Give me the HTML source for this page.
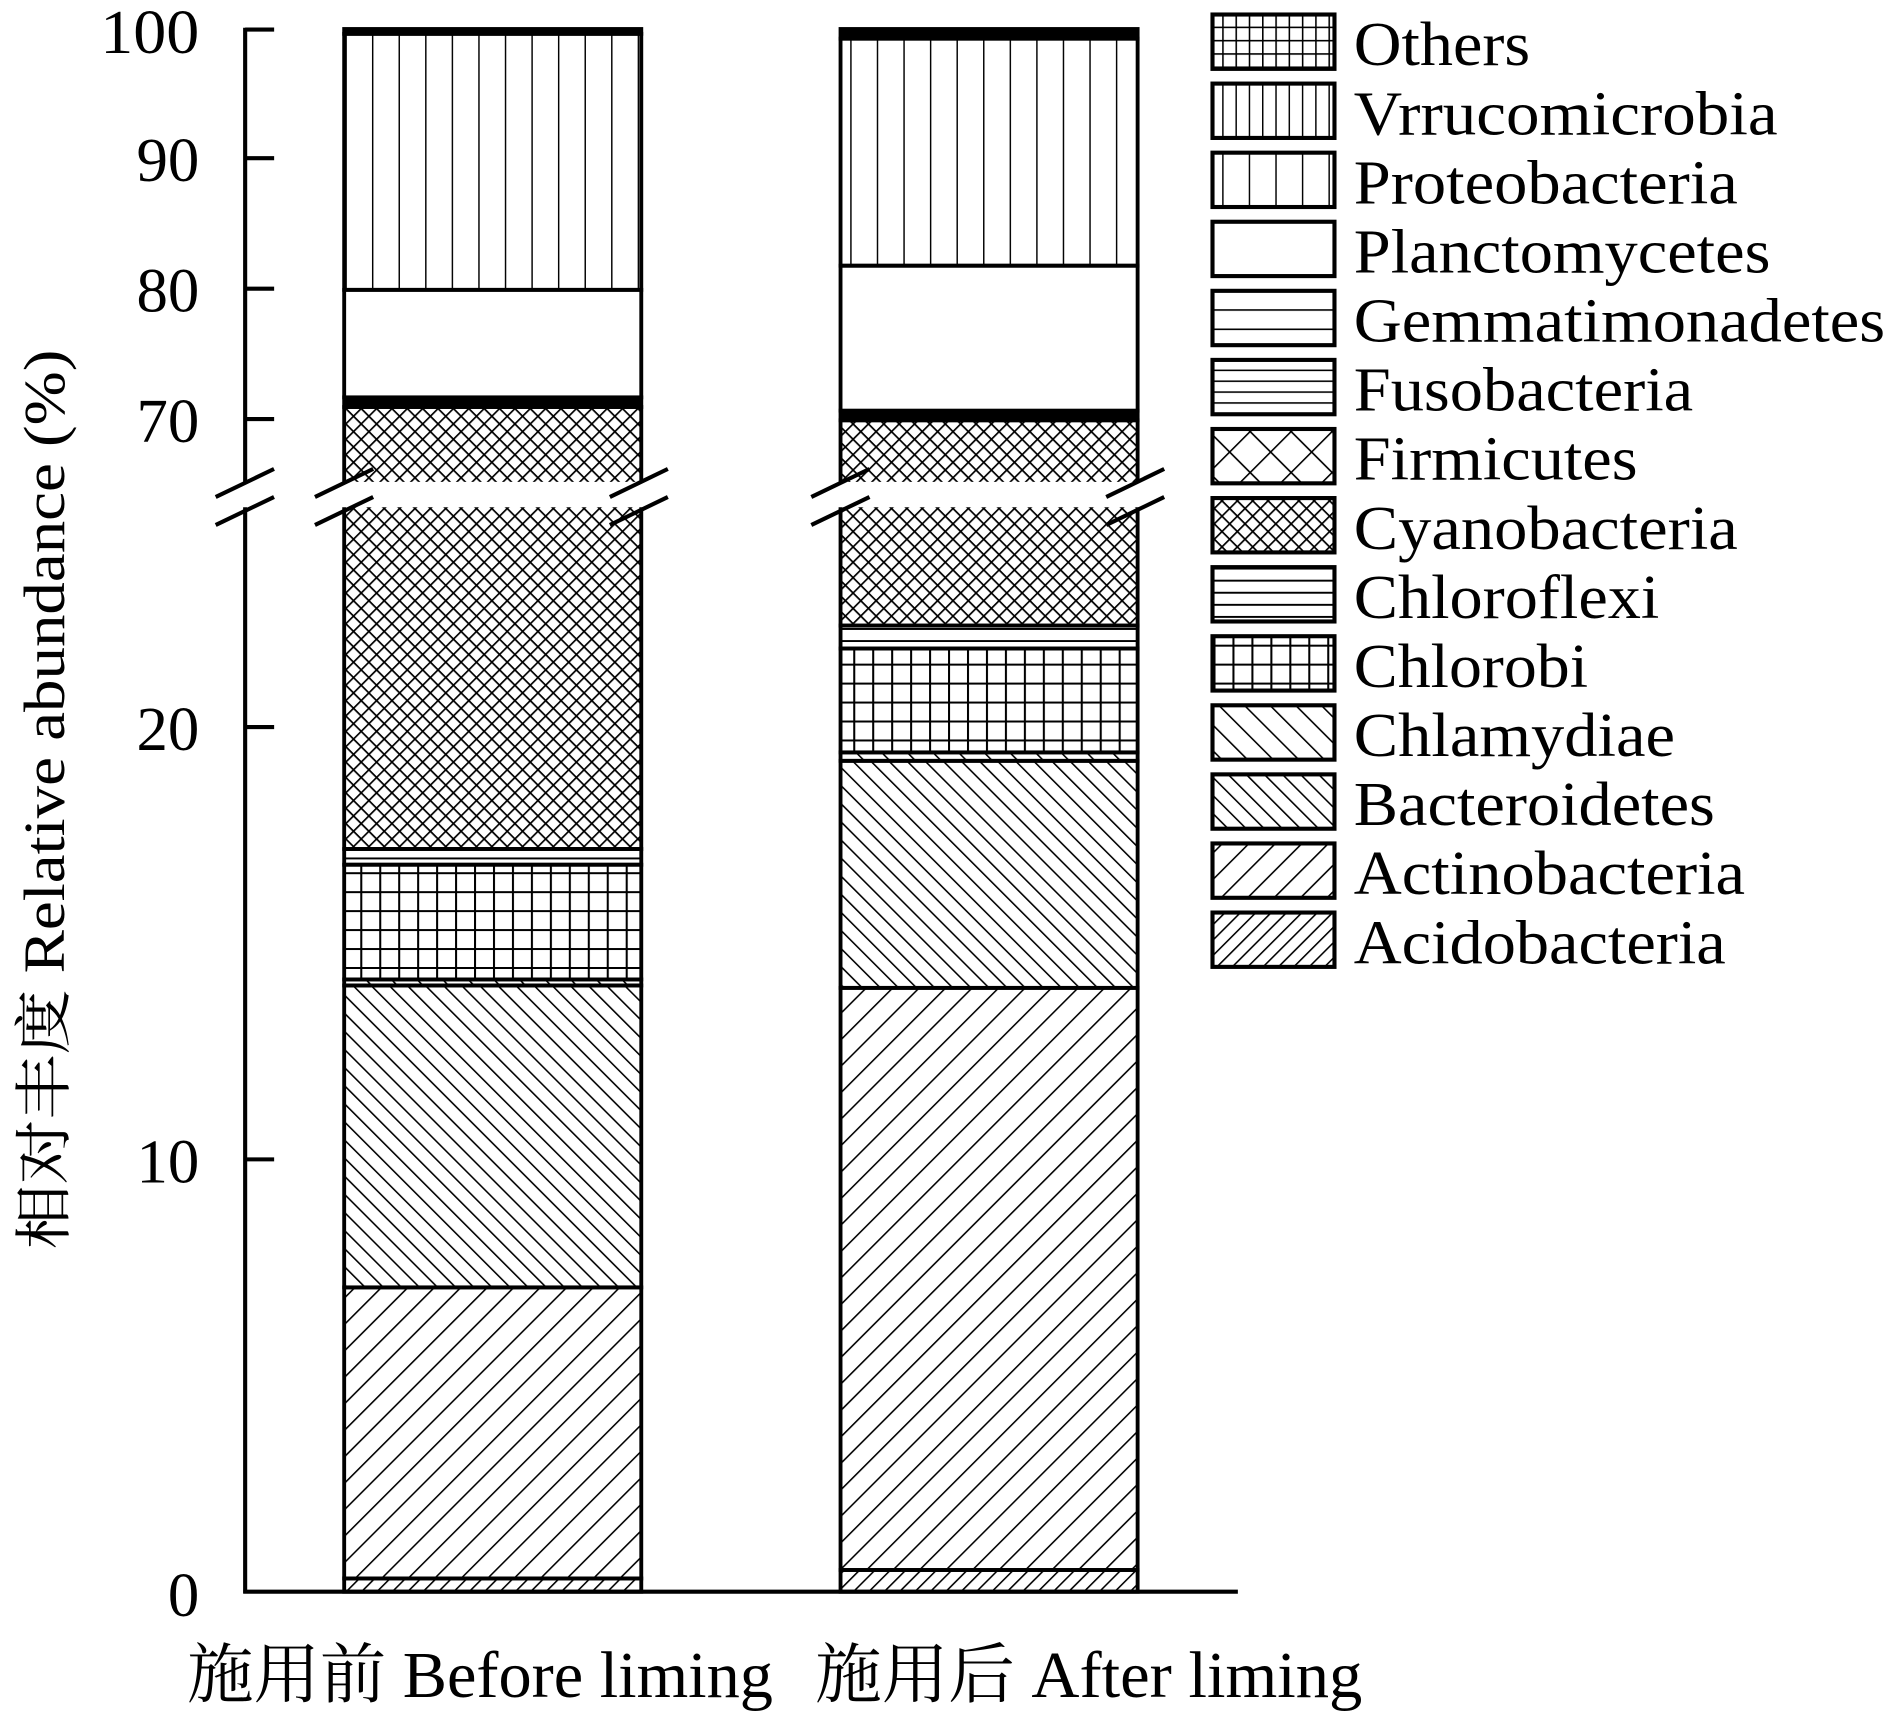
<!DOCTYPE html>
<html><head><meta charset="utf-8"><style>
html,body{margin:0;padding:0;background:#fff;}
svg{display:block;}
text{font-family:"Liberation Serif","Noto Serif CJK SC",serif;fill:#000;}
</style></head><body>
<svg width="1890" height="1713" viewBox="0 0 1565 1418.4" xmlns="http://www.w3.org/2000/svg">
<defs>
<pattern id="acido" width="9" height="9" patternUnits="userSpaceOnUse" patternTransform="rotate(45)"><line x1="0" y1="0" x2="0" y2="9" stroke="#000" stroke-width="2.6"/></pattern>
<pattern id="actino" width="15.5" height="15.5" patternUnits="userSpaceOnUse" patternTransform="rotate(45)"><line x1="0" y1="0" x2="0" y2="15.5" stroke="#000" stroke-width="2.6"/></pattern>
<pattern id="bact" width="10.6" height="10.6" patternUnits="userSpaceOnUse" patternTransform="rotate(-45)"><line x1="0" y1="0" x2="0" y2="10.6" stroke="#000" stroke-width="2.6"/></pattern>
<pattern id="chlam" width="15" height="15" patternUnits="userSpaceOnUse" patternTransform="rotate(-45)"><line x1="0" y1="0" x2="0" y2="15" stroke="#000" stroke-width="2.6"/></pattern>
<pattern id="chlorobi" width="15.7" height="15.7" patternUnits="userSpaceOnUse"><path d="M0 0H15.7M0 0V15.7" stroke="#000" stroke-width="3.4"/></pattern>
<pattern id="chlorofl" width="10" height="10" patternUnits="userSpaceOnUse"><line x1="0" y1="0" x2="10" y2="0" stroke="#000" stroke-width="3.2"/></pattern>
<pattern id="cyano" width="9" height="9" patternUnits="userSpaceOnUse" patternTransform="rotate(45)"><path d="M0 0H9M0 0V9" stroke="#000" stroke-width="2.8"/></pattern>
<pattern id="firm" width="24" height="24" patternUnits="userSpaceOnUse" patternTransform="rotate(45)"><path d="M0 0H24M0 0V24" stroke="#000" stroke-width="2.6"/></pattern>
<pattern id="fuso" width="9" height="9" patternUnits="userSpaceOnUse"><line x1="0" y1="0" x2="9" y2="0" stroke="#000" stroke-width="2.6"/></pattern>
<pattern id="gemma" width="16" height="16" patternUnits="userSpaceOnUse"><line x1="0" y1="0" x2="16" y2="0" stroke="#000" stroke-width="2.6"/></pattern>
<pattern id="proteo" width="22" height="22" patternUnits="userSpaceOnUse"><line x1="0" y1="0" x2="0" y2="22" stroke="#000" stroke-width="2.4"/></pattern>
<pattern id="vrru" width="11" height="11" patternUnits="userSpaceOnUse"><line x1="0" y1="0" x2="0" y2="11" stroke="#000" stroke-width="2.4"/></pattern>
<pattern id="others" width="11" height="11" patternUnits="userSpaceOnUse"><path d="M0 0H11M0 0V11" stroke="#000" stroke-width="2.6"/></pattern>
</defs>

<g stroke="#000" stroke-width="3.2">
<rect x="285" y="1307" width="246" height="11" fill="url(#acido)"/>
<rect x="285" y="1066" width="246" height="241" fill="url(#actino)"/>
<rect x="285" y="816" width="246" height="250" fill="url(#bact)"/>
<rect x="285" y="811" width="246" height="5" fill="url(#chlam)"/>
<rect x="285" y="716" width="246" height="95" fill="url(#chlorobi)"/>
<rect x="285" y="703" width="246" height="13" fill="url(#chlorofl)"/>
<rect x="285" y="337" width="246" height="366" fill="url(#cyano)"/>
<rect x="285" y="329" width="246" height="8" fill="#000"/>
<rect x="285" y="240" width="246" height="89" fill="#fff"/>
<rect x="285" y="28" width="246" height="212" fill="url(#proteo)"/>
<rect x="285" y="24" width="246" height="4" fill="#000"/>
<rect x="696" y="1300" width="246" height="18" fill="url(#acido)"/>
<rect x="696" y="818" width="246" height="482" fill="url(#actino)"/>
<rect x="696" y="630" width="246" height="188" fill="url(#bact)"/>
<rect x="696" y="623" width="246" height="7" fill="url(#chlam)"/>
<rect x="696" y="537" width="246" height="86" fill="url(#chlorobi)"/>
<rect x="696" y="518" width="246" height="19" fill="url(#chlorofl)"/>
<rect x="696" y="348" width="246" height="170" fill="url(#cyano)"/>
<rect x="696" y="340" width="246" height="8" fill="#000"/>
<rect x="696" y="220" width="246" height="120" fill="#fff"/>
<rect x="696" y="32" width="246" height="188" fill="url(#proteo)"/>
<rect x="696" y="24" width="246" height="8" fill="#000"/>
</g>
<rect x="255" y="399" width="305" height="21" fill="#fff"/>
<rect x="666" y="399" width="305" height="21" fill="#fff"/>
<rect x="195" y="400" width="20" height="20" fill="#fff"/>
<g stroke="#000" stroke-width="3.4">
<line x1="178.6" y1="411.5" x2="226.9" y2="388.3"/><line x1="178.6" y1="434.7" x2="226.9" y2="411.5"/>
<line x1="260.8" y1="411.5" x2="309" y2="388.3"/><line x1="260.8" y1="434.7" x2="309" y2="411.5"/>
<line x1="505" y1="411.5" x2="553" y2="388.3"/><line x1="505" y1="434.7" x2="553" y2="411.5"/>
<line x1="671.8" y1="411.5" x2="720" y2="388.3"/><line x1="671.8" y1="434.7" x2="720" y2="411.5"/>
<line x1="916" y1="411.5" x2="964" y2="388.3"/><line x1="916" y1="434.7" x2="964" y2="411.5"/>
<line x1="203" y1="23" x2="203" y2="400"/>
<line x1="203" y1="420" x2="203" y2="1319.5"/>
<line x1="201.5" y1="1318" x2="1025" y2="1318"/>
<line x1="203" y1="24.5" x2="227" y2="24.5"/>
<line x1="203" y1="131" x2="227" y2="131"/>
<line x1="203" y1="239" x2="227" y2="239"/>
<line x1="203" y1="347" x2="227" y2="347"/>
<line x1="203" y1="602" x2="227" y2="602"/>
<line x1="203" y1="960" x2="227" y2="960"/>
</g>
<g font-size="52" text-anchor="end">
<text x="165" y="44" textLength="82" lengthAdjust="spacingAndGlyphs">100</text>
<text x="165" y="150">90</text>
<text x="165" y="258">80</text>
<text x="165" y="366">70</text>
<text x="165" y="621">20</text>
<text x="165" y="979">10</text>
<text x="165" y="1338">0</text>
</g>
<text transform="translate(53,662) rotate(-90)" font-size="48" text-anchor="middle" textLength="745" lengthAdjust="spacingAndGlyphs">相对丰度 Relative abundance (%)</text>
<text x="155" y="1405" font-size="54" textLength="485" lengthAdjust="spacingAndGlyphs">施用前 Before liming</text>
<text x="675" y="1405" font-size="54" textLength="453" lengthAdjust="spacingAndGlyphs">施用后 After liming</text>

<g stroke="#000" stroke-width="3.4">
<rect x="1004" y="12" width="101" height="45" fill="url(#others)"/>
<rect x="1004" y="69.2" width="101" height="45" fill="url(#vrru)"/>
<rect x="1004" y="126.4" width="101" height="45" fill="url(#proteo)"/>
<rect x="1004" y="183.6" width="101" height="45" fill="#fff"/>
<rect x="1004" y="240.8" width="101" height="45" fill="url(#gemma)"/>
<rect x="1004" y="298" width="101" height="45" fill="url(#fuso)"/>
<rect x="1004" y="355.2" width="101" height="45" fill="url(#firm)"/>
<rect x="1004" y="412.4" width="101" height="45" fill="url(#cyano)"/>
<rect x="1004" y="469.6" width="101" height="45" fill="url(#chlorofl)"/>
<rect x="1004" y="526.8" width="101" height="45" fill="url(#chlorobi)"/>
<rect x="1004" y="584" width="101" height="45" fill="url(#chlam)"/>
<rect x="1004" y="641.2" width="101" height="45" fill="url(#bact)"/>
<rect x="1004" y="698.4" width="101" height="45" fill="url(#actino)"/>
<rect x="1004" y="755.6" width="101" height="45" fill="url(#acido)"/>
</g>
<g font-size="52" lengthAdjust="spacingAndGlyphs">
<text x="1121" y="54" textLength="146" lengthAdjust="spacingAndGlyphs">Others</text>
<text x="1121" y="111.2" textLength="351" lengthAdjust="spacingAndGlyphs">Vrrucomicrobia</text>
<text x="1121" y="168.4" textLength="318" lengthAdjust="spacingAndGlyphs">Proteobacteria</text>
<text x="1121" y="225.6" textLength="345" lengthAdjust="spacingAndGlyphs">Planctomycetes</text>
<text x="1121" y="282.8" textLength="440" lengthAdjust="spacingAndGlyphs">Gemmatimonadetes</text>
<text x="1121" y="340" textLength="281" lengthAdjust="spacingAndGlyphs">Fusobacteria</text>
<text x="1121" y="397.2" textLength="235" lengthAdjust="spacingAndGlyphs">Firmicutes</text>
<text x="1121" y="454.4" textLength="318" lengthAdjust="spacingAndGlyphs">Cyanobacteria</text>
<text x="1121" y="511.6" textLength="253" lengthAdjust="spacingAndGlyphs">Chloroflexi</text>
<text x="1121" y="568.8" textLength="194" lengthAdjust="spacingAndGlyphs">Chlorobi</text>
<text x="1121" y="626" textLength="266" lengthAdjust="spacingAndGlyphs">Chlamydiae</text>
<text x="1121" y="683.2" textLength="299" lengthAdjust="spacingAndGlyphs">Bacteroidetes</text>
<text x="1121" y="740.4" textLength="324" lengthAdjust="spacingAndGlyphs">Actinobacteria</text>
<text x="1121" y="797.6" textLength="308" lengthAdjust="spacingAndGlyphs">Acidobacteria</text>
</g>
</svg>
</body></html>
